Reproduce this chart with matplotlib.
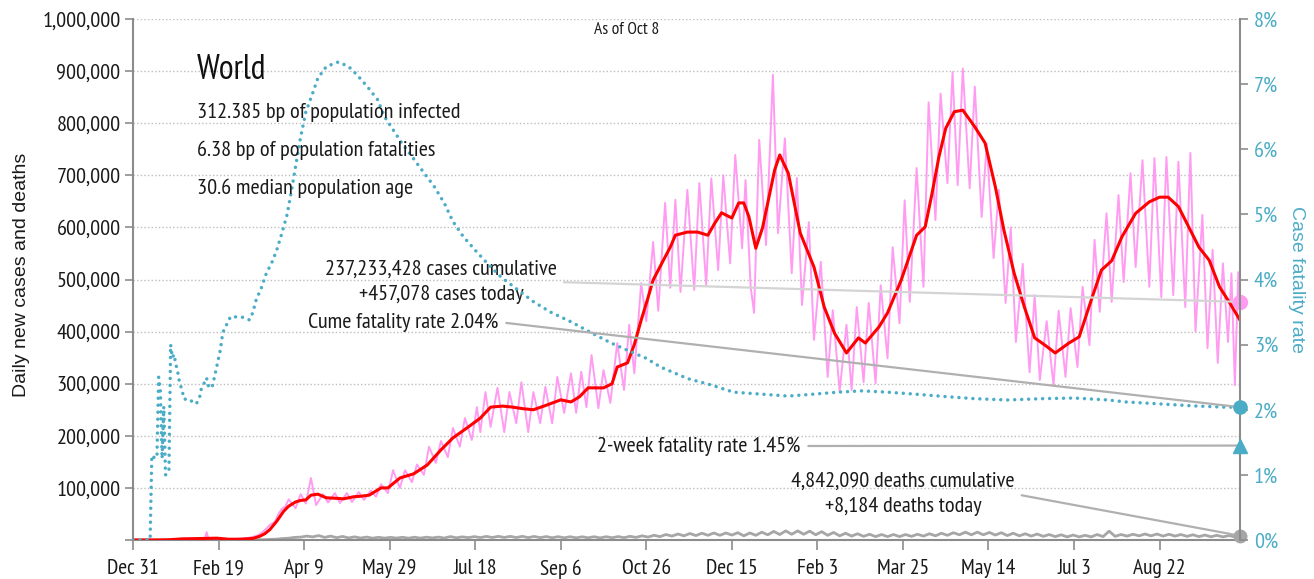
import numpy as np
import pandas as pd
import matplotlib
matplotlib.use("Agg")
import matplotlib.pyplot as plt
from matplotlib import font_manager

start = pd.Timestamp("2019-12-31")
end = pd.Timestamp("2021-10-08")

case_days = [0, 10, 18, 21, 24, 28, 31, 35, 38, 42, 43, 44, 48, 52, 56, 60, 63, 67, 70, 73, 76, 78, 80, 83,
             85, 87, 89, 91, 95, 98, 101, 104, 107, 111, 114, 118, 121, 125, 128, 132, 135, 139, 142, 145,
             149, 152, 156, 159, 163, 166, 170, 173, 177, 180, 184, 187, 191, 194, 198, 201, 203, 206, 209,
             213, 217, 220, 224, 227, 231, 234, 238, 241, 245, 248, 252, 256, 259, 262, 265, 268, 272, 275,
             279, 283, 287, 290, 293, 297, 300, 304, 307, 311, 314, 317, 320, 324, 328, 331, 335, 338, 342,
             345, 349, 352, 356, 358, 361, 363, 366, 370, 374, 377, 381, 385, 388, 391, 395, 398, 402, 406,
             409, 413, 417, 420, 423, 427, 430, 434, 437, 441, 444, 448, 451, 454, 458, 462, 465, 469, 472,
             476, 479, 482, 485, 489, 492, 496, 499, 503, 506, 510, 513, 516, 520, 524, 527, 530, 534, 538,
             541, 545, 548, 552, 555, 559, 562, 565, 569, 572, 576, 579, 583, 586, 590, 594, 597, 601, 604,
             608, 611, 615, 618, 621, 625, 628, 631, 634, 637, 640, 642, 644, 646, 647]
case_vals = [0, 0, 0.1, 0.5, 1.5, 2.5, 3.5, 2.8, 3.8, 2.5, 15, 4, 2, 1, 1.5, 2, 3, 4, 6, 9, 16, 22, 29, 35,
             50, 60, 64, 78, 61, 88, 70, 119, 67, 88, 72, 90, 71, 90, 73, 92, 77, 95, 83, 107,
             90, 134, 100, 134, 111, 145, 125, 179, 148, 190, 159, 215, 179, 234, 192, 255, 207, 284, 217,
             292, 207, 284, 224, 303, 207, 284, 224, 294, 224, 313, 244, 320, 244, 323, 255, 355, 253, 326,
             263, 378, 288, 413, 320, 493, 420, 572, 440, 647, 484, 653, 476, 672, 480, 685, 489, 694, 518,
             700, 531, 739, 560, 691, 486, 436, 768, 566, 893, 589, 771, 512, 695, 451, 610, 384, 534, 313,
             441, 285, 413, 288, 447, 303, 455, 301, 489, 349, 562, 416, 652, 457, 714, 486, 840, 614, 857,
             685, 898, 681, 905, 675, 870, 620, 760, 541, 672, 455, 600, 380, 530, 322, 470, 307, 420, 297,
             440, 313, 445, 332, 486, 374, 576, 438, 627, 457, 662, 495, 704, 524, 729, 486, 733, 466, 735,
             470, 726, 447, 743, 400, 624, 368, 557, 340, 531, 380, 512, 297, 514, 457.078]

# 7-day average of new cases (thousands)
avg_days = [0, 14, 21, 28, 35, 42, 49, 56, 63, 70, 74, 77, 80, 84, 88, 91, 95, 98, 101, 104, 108, 113, 119,
            123, 129, 133, 138, 145, 149, 156, 164, 172, 180, 187, 196, 203, 209, 216, 222, 228, 234, 241,
            250, 256, 261, 266, 275, 280, 283, 289, 293, 297, 301, 304, 310, 314, 317, 324, 330, 336, 340,
            344, 350, 354, 357, 360, 364, 368, 371, 375, 378, 383, 390, 398, 404, 410, 417, 424, 428, 436,
            441, 449, 458, 463, 467, 471, 475, 480, 485, 492, 498, 504, 509, 515, 521, 527, 533, 539, 547,
            553, 560, 566, 572, 578, 586, 594, 600, 605, 611, 615, 623, 629, 635, 641, 647]
avg_vals = [0, 0, 0.5, 2, 2.5, 3, 3.5, 1.5, 1.5, 3, 7, 12, 20, 36, 55, 65, 73, 76, 77, 86, 88, 81, 80,
            79, 83, 84, 86, 100, 100, 119, 127, 144, 173, 196, 217, 234, 255, 257, 255, 252, 250, 258,
            269, 265, 275, 292, 292, 300, 332, 340, 375, 422, 465, 499, 537, 562, 585, 591, 591, 585, 608,
            628, 618, 647, 647, 620, 560, 600, 647, 710, 739, 704, 589, 524, 447, 397, 359, 388, 378, 409,
            436, 499, 585, 601, 665, 735, 790, 822, 825, 793, 762, 678, 595, 512, 447, 388, 374, 359, 378,
            390, 460, 518, 536, 582, 627, 649, 658, 658, 640, 614, 562, 537, 486, 455, 422]

# daily deaths (thousands): weekly low and high, one pair per week
death_lo = [0, 0, 0, 0.03, 0.05, 0.06, 0.08, 0.1, 0.05, 0.06, 0.2, 0.6, 1.7, 3.5, 5.5, 6, 5, 4.5, 4, 3.8,
            3.5, 3.6, 3.7, 3.5, 3.6, 4, 3.8, 4.2, 4.5, 4.6, 4.8, 4.9, 4.7, 4.6, 4.5, 4.3, 4.2, 4.1, 4.2, 4,
            4.3, 4.5, 5, 5.6, 6.5, 7.5, 8, 8.5, 9, 9, 9.5, 8, 9, 10, 10.5, 11, 11, 10, 9, 8, 7.5, 7, 6.5,
            6.5, 6.5, 7, 7.5, 8, 9, 10, 10, 10, 9.5, 8.5, 8, 7.5, 7, 6.5, 6, 6, 6, 6.5, 7, 7.5, 8, 8, 7.5,
            7.5, 7, 6.5, 6.2, 6, 6]
death_hi = [0, 0, 0, 0.05, 0.1, 0.1, 0.25, 0.14, 0.1, 0.1, 0.4, 1.2, 2.8, 5, 7.5, 8.5, 7.5, 6.8, 6, 5.6,
            5.2, 5, 5.2, 5.3, 5.4, 5.5, 6.5, 6, 6.5, 6.9, 7, 7, 7, 6.8, 6.6, 6.4, 6.3, 6.2, 6.3, 6.3,
            6.6, 7, 8, 9, 10.5, 11.5, 12.5, 13, 13.5, 13.5, 14, 13.5, 15, 16.5, 17.5, 17.5, 17, 16, 14.5,
            13, 12, 11, 10.5, 10.5, 10.5, 11, 12, 13, 14, 15, 15, 14.5, 14, 13, 12, 11.5, 10.5, 10, 9.5,
            9, 10.5, 17, 10.5, 11, 11.5, 11.5, 11, 10.5, 10, 9.5, 9, 8.5, 8.2]
deaths_today = 8.184

# cumulative case fatality rate (%)
cfr_days = [0, 10, 11, 13, 14, 15, 16, 17, 18, 19, 21, 22, 23, 24, 25, 26, 27, 29, 30, 32, 35, 37, 39, 40,
            42, 43, 44, 46, 47, 48, 49, 50, 51, 52, 53, 55, 57, 64, 67, 68, 70, 72, 75, 78, 81, 84, 87, 90,
            92, 95, 98, 101, 105, 108, 113, 120, 126, 131, 137, 143, 147, 152, 157, 163, 170, 176, 182,
            187, 193, 200, 207, 215, 225, 234, 244, 256, 268, 279, 291, 300, 308, 324, 338, 351, 367, 383,
            398, 412, 426, 441, 457, 476, 492, 511, 531, 550, 570, 580, 600, 619, 638, 647]
cfr_vals = [0, 0, 1.3, 1.25, 1.28, 2.5, 2.3, 1.25, 2.05, 1.0, 1.05, 3.0, 2.8, 2.85, 2.7, 2.6, 2.45, 2.26,
            2.16, 2.17, 2.12, 2.09, 2.2, 2.33, 2.43, 2.49, 2.37, 2.33, 2.43, 2.55, 2.67, 2.79, 2.91, 3.1,
            3.22, 3.32, 3.43, 3.42, 3.39, 3.38, 3.49, 3.69, 3.87, 4.1, 4.25, 4.45, 4.71, 4.99, 5.27, 5.73,
            6.19, 6.57, 6.86, 7.09, 7.27, 7.34, 7.27, 7.14, 6.96, 6.76, 6.5, 6.3, 6.1, 5.89, 5.64, 5.43,
            5.17, 4.89, 4.66, 4.45, 4.25, 4.04, 3.84, 3.66, 3.5, 3.35, 3.18, 3.03, 2.89, 2.79, 2.66, 2.48,
            2.38, 2.27, 2.24, 2.21, 2.24, 2.27, 2.29, 2.27, 2.24, 2.2, 2.17, 2.15, 2.17, 2.18, 2.15, 2.12,
            2.09, 2.06, 2.04, 2.04]
two_week_cfr = 1.45

y_ticks = [0, 100000, 200000, 300000, 400000, 500000, 600000, 700000, 800000, 900000, 1000000]
pct_ticks = [0, 1, 2, 3, 4, 5, 6, 7, 8]
x_ticks = ["2019-12-31", "2020-02-19", "2020-04-09", "2020-05-29", "2020-07-18", "2020-09-06",
           "2020-10-26", "2020-12-15", "2021-02-03", "2021-03-25", "2021-05-14", "2021-07-03",
           "2021-08-22"]
x_labels = ["Dec 31", "Feb 19", "Apr 9", "May 29", "Jul 18", "Sep 6", "Oct 26", "Dec 15", "Feb 3",
            "Mar 25", "May 14", "Jul 3", "Aug 22"]

info_lines = ["312.385 bp of population infected", "6.38 bp of population fatalities",
              "30.6 median population age"]


def to_dates(days):
    return start + pd.to_timedelta(np.asarray(days, dtype=float), unit="D")


W, H = 1314, 579


def fx(x):
    return x / W


def fy(y):
    return 1 - y / H


def first_font(options):
    names = {f.name for f in font_manager.fontManager.ttflist}
    for name in options:
        if name in names:
            return name
    return "DejaVu Sans"


narrow = first_font(["PT Sans Narrow", "Barlow Condensed", "Archivo Narrow", "Roboto Condensed"])
plain = first_font(["Liberation Sans", "Roboto"])
plt.rcParams["font.family"] = narrow

pink = "#ff9cf2"
teal = "#4bacc6"
spine = "#8c8c8c"
ink = "#1a1a1a"

fig = plt.figure(figsize=(W / 100, H / 100), dpi=100)
ax = fig.add_axes([fx(133), fy(540), (1240 - 133) / W, (540 - 19) / H])
ax2 = ax.twinx()

case_y = np.array(case_vals) * 1000
ax.plot(to_dates(case_days), case_y, color=pink, lw=1.4, zorder=2)
ax.plot(to_dates(avg_days), np.array(avg_vals) * 1000, color="#ff0000", lw=2.2, zorder=3)

# deaths: interleave weekly lows and highs
w = np.arange(len(death_lo))
d_days = np.column_stack([7 * w, 7 * w + 3.5]).ravel()
d_vals = np.column_stack([death_lo, death_hi]).ravel()
keep = d_days < 647
d_days = np.append(d_days[keep], 647)
d_vals = np.append(d_vals[keep], deaths_today) * 1000
ax.plot(to_dates(d_days), d_vals, color="#a6a6a6", lw=2, zorder=2)

ax2.plot(to_dates(cfr_days), cfr_vals, color=teal, lw=2.5,
         linestyle=(0, (0.01, 2.0)), dash_capstyle="round", zorder=4)

# end markers
ax.plot([end], [case_y[-1]], "o", color=pink, ms=10, clip_on=False, zorder=6)
ax.plot([end], [d_vals[-1]], "o", color="#a6a6a6", ms=9, clip_on=False, zorder=6)
ax2.plot([end], [cfr_vals[-1]], "o", color=teal, ms=9.5, clip_on=False, zorder=6)
ax2.plot([end], [two_week_cfr], "^", color=teal, ms=10, clip_on=False, zorder=6)

ax.set_xlim(start, end)
ax.set_ylim(0, 1000000)
ax2.set_ylim(0, 8)

ax.set_yticks(y_ticks)
ax.set_yticklabels([""] + [f"{v:,}" for v in y_ticks[1:]])
ax2.set_yticks(pct_ticks)
ax2.set_yticklabels([f"{v}%" for v in pct_ticks])
ax.set_xticks(pd.to_datetime(x_ticks))
ax.set_xticklabels(x_labels)

ax.grid(axis="y", linestyle=(0, (1, 1.6)), color="#bdbdbd", lw=1)
ax.set_axisbelow(True)

ax.tick_params(axis="y", length=6, color=spine, width=1.2, labelsize=16, pad=3, labelcolor=ink)
ax.tick_params(axis="x", length=7, color=spine, width=1.2, labelsize=15.5, pad=7, labelcolor=ink)
ax2.tick_params(axis="y", length=6, color=spine, width=1.2, labelsize=16, pad=4, labelcolor=teal)

for a in (ax, ax2):
    a.spines["top"].set_visible(False)
    for s in a.spines.values():
        s.set_color(spine)
        s.set_linewidth(1.5)
ax2.spines["left"].set_visible(False)
ax2.spines["bottom"].set_visible(False)
ax.spines["right"].set_visible(False)

ax.set_ylabel("Daily new cases and deaths", family=plain, fontsize=14, color=ink)
ax.yaxis.set_label_coords((30 - 133) / 1107, (540 - 275) / 521)
ax2.set_ylabel("Case fatality rate", family=plain, fontsize=14, color=teal, rotation=270, va="center")
ax2.yaxis.set_label_coords((1296 - 133) / 1107, (540 - 280) / 521)

fig.text(fx(627), fy(30), "As of Oct 8", fontsize=12.5, ha="center", va="center", color=ink)
fig.text(fx(197), fy(70), "World", fontsize=24.5, ha="left", va="center", color="#111111")
for i, line in enumerate(info_lines):
    fig.text(fx(197), fy(113 + 37.5 * i), line, fontsize=16, ha="left", va="center", color=ink)

ax.annotate("237,233,428 cases cumulative\n+457,078 cases today", xy=(end, case_y[-1]),
            xytext=(fx(441), fy(282)), textcoords="figure fraction", ha="center", va="center",
            multialignment="center", fontsize=16, linespacing=1.38, color=ink,
            arrowprops=dict(arrowstyle="-", color="#d4d4d4", lw=1.6, shrinkA=3, shrinkB=0, relpos=(1, 0.5)),
            annotation_clip=False, zorder=5)
ax2.annotate("Cume fatality rate 2.04%", xy=(end, cfr_vals[-1]),
             xytext=(fx(498), fy(322)), textcoords="figure fraction", ha="right", va="center",
             fontsize=16, color=ink,
             arrowprops=dict(arrowstyle="-", color="#b0b0b0", lw=1.6, shrinkA=4, shrinkB=0, relpos=(1, 0.5)),
             annotation_clip=False, zorder=5)
ax2.annotate("2-week fatality rate 1.45%", xy=(end, two_week_cfr),
             xytext=(fx(800), fy(446)), textcoords="figure fraction", ha="right", va="center",
             fontsize=16, color=ink,
             arrowprops=dict(arrowstyle="-", color="#b0b0b0", lw=1.6, shrinkA=4, shrinkB=0, relpos=(1, 0.5)),
             annotation_clip=False, zorder=5)
ax.annotate("4,842,090 deaths cumulative\n+8,184 deaths today", xy=(end, d_vals[-1]),
            xytext=(fx(903), fy(494)), textcoords="figure fraction", ha="center", va="center",
            multialignment="center", fontsize=16, linespacing=1.38, color=ink,
            arrowprops=dict(arrowstyle="-", color="#b0b0b0", lw=1.6, shrinkA=3, shrinkB=0, relpos=(1, 0.5)),
            annotation_clip=False, zorder=5)

fig.savefig("out.png", dpi=100)
